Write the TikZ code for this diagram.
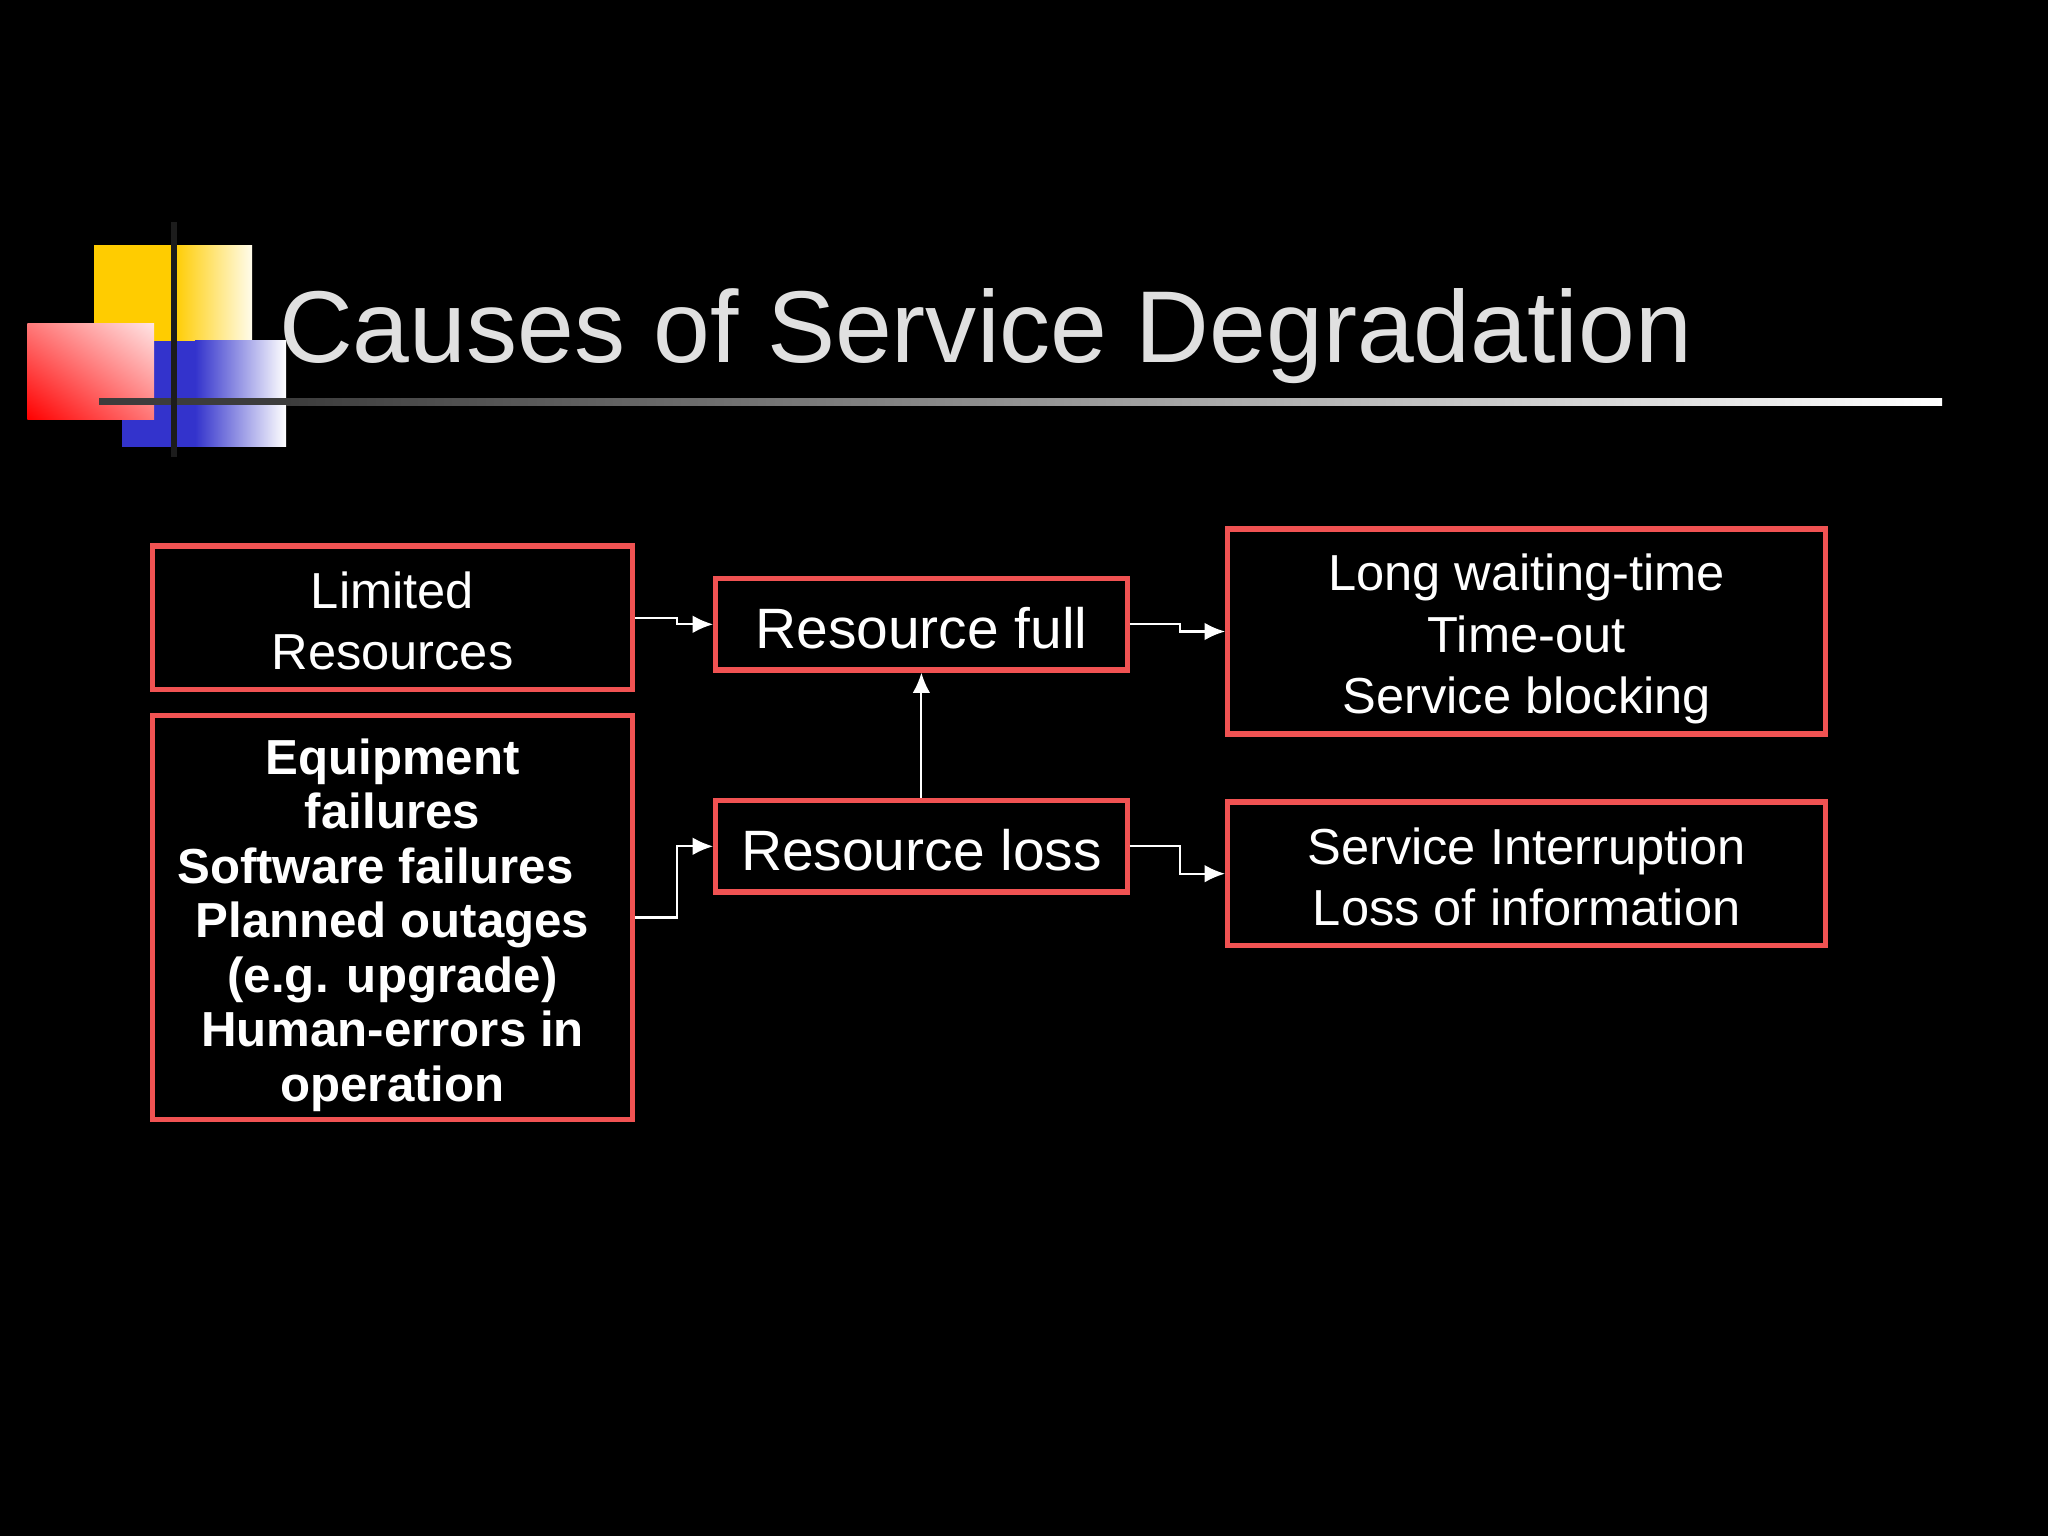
\documentclass[tikz,border=0pt]{standalone}
\usepackage{fontspec}
\setmainfont{Liberation Sans}
\usetikzlibrary{arrows.meta,shadings}
\definecolor{boxred}{RGB}{240,82,82}
\definecolor{gold}{RGB}{255,204,0}
\definecolor{goldwhite}{RGB}{255,252,235}
\definecolor{royal}{RGB}{51,51,204}
\definecolor{titlegray}{RGB}{224,224,224}
\definecolor{barkgray}{RGB}{28,28,28}
\definecolor{linegray}{RGB}{60,60,60}
\definecolor{redfull}{RGB}{255,0,0}
\definecolor{redmid}{RGB}{255,120,120}
\definecolor{redlight}{RGB}{255,228,228}
\begin{document}
\begin{tikzpicture}[
  box/.style={draw=boxred, line width=1.48pt, inner sep=0pt},
  txt/.style={text=white, align=center, inner sep=0pt, font=\fontsize{14.4}{17.5}\selectfont},
  bigtxt/.style={txt, font=\fontsize{16.2}{19}\selectfont},
  boldtxt/.style={txt, font=\bfseries\fontsize{14}{15.5}\selectfont},
  conn/.style={draw=white, line width=0.6pt, -{Latex[length=5.8pt,width=5pt]}}
]
\fill[black] (0,0) rectangle (20.48,-15.36);
\useasboundingbox (0,0) rectangle (20.48,-15.36);

% decoration: yellow
\fill[gold] (0.94,-2.455) rectangle (1.75,-3.42);
\shade[left color=gold, right color=goldwhite] (1.74,-2.455) rectangle (2.52,-3.42);
% blue
\fill[royal] (1.215,-3.409) rectangle (1.96,-4.467);
\shade[left color=royal, right color=white] (1.95,-3.409) rectangle (2.86,-4.467);
% red
\shade[lower left=redfull, upper right=redlight, upper left=redmid, lower right=redmid]
  (0.274,-3.239) rectangle (1.541,-4.192);
% bars
\fill[linegray] (0.99,-3.985) rectangle (2.87,-4.055);
\shade[left color=linegray, right color=white] (2.86,-3.985) rectangle (19.42,-4.055);
\fill[barkgray] (1.71,-2.22) rectangle (1.77,-4.57);

% title
\node[anchor=base west, inner sep=0pt, text=titlegray, font=\fontsize{29.05}{34}\selectfont] (title) at (2.785,-3.63) {Causes of Service Degradation};

% boxes
\node[box, minimum width=4.793cm, minimum height=1.437cm] (lim) at (3.925,-6.178) {};
\node[box, minimum width=4.793cm, minimum height=4.035cm] (eq) at (3.925,-9.175) {};
\node[box, minimum width=4.114cm, minimum height=0.914cm] (rf) at (9.214,-6.243) {};
\node[box, minimum width=4.114cm, minimum height=0.914cm] (rl) at (9.214,-8.463) {};
\node[box, minimum width=5.982cm, minimum height=2.051cm] (long) at (15.267,-6.315) {};
\node[box, minimum width=5.982cm, minimum height=1.436cm] (si) at (15.267,-8.737) {};

% texts
\node[txt] (limt) at ([yshift=-0.03cm]lim.center) {Limited\\Resources};
\node[boldtxt] (eqt) at ([yshift=-0.075cm]eq.center)
  {Equipment\\failures\\\mbox{Software failures\hspace{9.7pt}}\\Planned outages\\(e.g. upgrade)\\Human-errors in\\operation};
\node[bigtxt] (rft) at ([yshift=-0.04cm]rf.center) {Resource full};
\node[bigtxt] (rlt) at ([yshift=-0.04cm]rl.center) {Resource loss};
\node[txt] (longt) at ([yshift=-0.075cm]long.center) {Long waiting-time\\Time-out\\Service blocking};
\node[txt] (sit) at ([yshift=-0.03cm]si.center) {Service Interruption\\Loss of information};

% connectors
\draw[conn] (lim.east) -- ++(0.42,0) |- (rf.west);
\draw[conn] (eq.east) -- ++(0.42,0) |- (rl.west);
\draw[conn] (rf.east) -- ++(0.5,0) |- (long.west);
\draw[conn] (rl.east) -- ++(0.5,0) |- (si.west);
\draw[conn] (rl.north) -- (rf.south);
\end{tikzpicture}
\end{document}
